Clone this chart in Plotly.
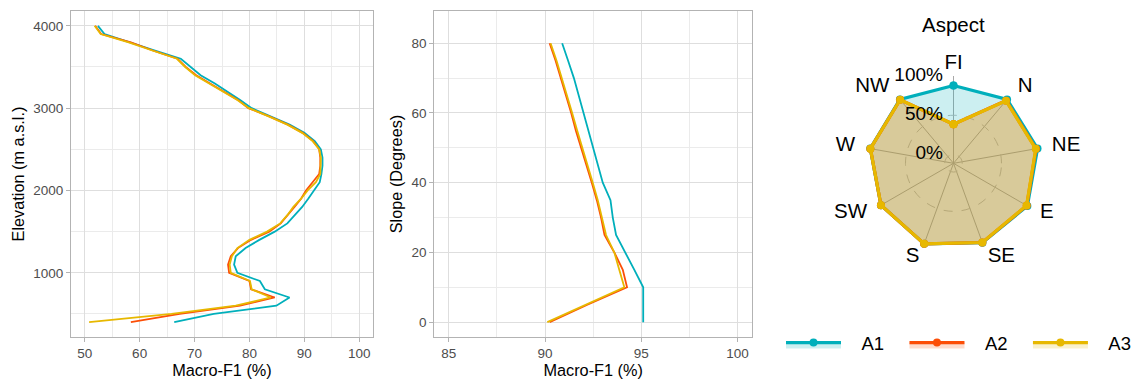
import plotly.graph_objects as go

# ---------------- data ----------------
series_names = ["A1", "A2", "A3"]
series_colors = ["#00AFBB", "#FC4E07", "#E7B800"]
series_fills = ["rgba(0,175,187,0.2)", "rgba(252,78,7,0.2)", "rgba(231,184,0,0.2)"]

elevation = [400, 500, 600, 700, 800, 900, 1000, 1100, 1200, 1300, 1400, 1500, 1600,
             1700, 1800, 1900, 2000, 2100, 2200, 2300, 2400, 2500, 2600, 2700, 2800,
             2900, 3000, 3100, 3200, 3300, 3400, 3500, 3600, 3700, 3800, 3900, 4000]
elev_A1 = [66.3, 73.5, 84.9, 87.3, 82.8, 81.9, 77.8, 77.2, 77.5, 79.3, 81.8, 84.6, 86.9,
           88.3, 89.6, 90.7, 91.8, 92.8, 93.1, 93.3, 93.3, 93.0, 91.9, 90.0, 87.3,
           83.9, 80.4, 78.3, 76.1, 73.7, 71.1, 69.2, 67.5, 62.8, 58.2, 53.6, 52.4]
elev_A2 = [58.4, 67.3, 78.3, 84.6, 80.3, 80.0, 76.3, 76.1, 76.6, 77.9, 80.3, 83.6, 85.7,
           87.0, 88.2, 89.4, 90.3, 91.5, 92.7, 92.9, 92.9, 92.7, 91.6, 89.7, 87.0,
           83.6, 79.8, 77.9, 75.4, 73.0, 70.3, 68.4, 66.9, 62.4, 58.4, 53.0, 51.9]
elev_A3 = [50.8, 65.8, 77.5, 83.9, 80.4, 80.1, 76.6, 76.4, 76.8, 77.8, 80.0, 83.2, 85.6,
           86.9, 88.0, 89.4, 90.6, 92.1, 92.9, 93.0, 93.0, 92.7, 91.5, 89.6, 86.9,
           83.5, 79.9, 77.8, 75.3, 72.8, 70.1, 68.3, 66.8, 62.3, 58.0, 52.9, 51.8]

slope = [0, 5, 10, 15, 20, 25, 30, 35, 40, 45, 50, 55, 60, 65, 70, 75, 80]
slope_A1 = [95.1, 95.1, 95.1, 94.64, 94.18, 93.69, 93.52, 93.4, 93.0, 92.75, 92.48,
            92.25, 92.0, 91.75, 91.5, 91.2, 90.89]
slope_A2 = [90.24, 92.2, 94.26, 94.04, 93.6, 93.09, 92.91, 92.69, 92.43, 92.15, 91.88,
            91.6, 91.36, 91.1, 90.84, 90.55, 90.24]
slope_A3 = [90.12, 92.1, 94.12, 93.86, 93.6, 93.17, 92.97, 92.74, 92.48, 92.2, 91.93,
            91.67, 91.41, 91.15, 90.9, 90.6, 90.29]

aspect_cats = ["FI", "N", "NE", "E", "SE", "S", "SW", "W", "NW"]
aspect_A1 = [0.88, 0.95, 0.975, 0.975, 0.965, 0.98, 0.955, 0.965, 0.95]
aspect_A2 = [0.385, 0.93, 0.955, 0.965, 0.962, 0.98, 0.955, 0.963, 0.945]
aspect_A3 = [0.385, 0.928, 0.952, 0.963, 0.962, 0.98, 0.955, 0.963, 0.945]

radial_ticks = [0, 0.5, 1.0]
radial_labels = ["0%", "50%", "100%"]

# ---------------- figure ----------------
FW, FH = 1140, 381
FONT = "Liberation Sans"


def px(x):
    return x / FW


def py(y):
    return 1 - y / FH


fig = go.Figure()

elev_series = [elev_A1, elev_A2, elev_A3]
slope_series = [slope_A1, slope_A2, slope_A3]
aspect_series = [aspect_A1, aspect_A2, aspect_A3]

for name, col, vals in zip(series_names, series_colors, elev_series):
    fig.add_trace(go.Scatter(x=vals, y=elevation, mode="lines", name=name,
                             line=dict(color=col, width=1.8), showlegend=False,
                             xaxis="x", yaxis="y"))
for name, col, vals in zip(series_names, series_colors, slope_series):
    fig.add_trace(go.Scatter(x=vals, y=slope, mode="lines", name=name,
                             line=dict(color=col, width=1.8), showlegend=False,
                             xaxis="x2", yaxis="y2"))
NB = "\u00a0"
legend_names = [NB * 3 + n + (NB * 3 if i < len(series_names) - 1 else "")
                for i, n in enumerate(series_names)]
for lname, col, fcol, vals in zip(legend_names, series_colors, series_fills, aspect_series):
    fig.add_trace(go.Scatterpolar(r=vals + [vals[0]], theta=aspect_cats + [aspect_cats[0]],
                                  mode="lines+markers", name=lname, fill="toself",
                                  fillcolor=fcol, line=dict(color=col, width=3.2),
                                  marker=dict(color=col, size=8), subplot="polar"))
# radial labels (0%, 50%, 100%) along the FI spoke
fig.add_trace(go.Scatterpolar(r=radial_ticks, theta=[aspect_cats[0]] * 3, mode="text",
                              text=[t + NB * 2 for t in radial_labels],
                              textposition="middle left",
                              textfont=dict(family=FONT, size=19, color="black"),
                              showlegend=False, subplot="polar", hoverinfo="skip"))
# category labels just outside the outer grid circle (ggradar style), drawn on an
# overlaid polar subplot with the same scale but a larger radial range
label_r = 1.16
label_pos = ["middle center", "middle right", "middle right", "middle right", "middle right",
             "middle left", "middle left", "middle left", "middle left"]
fig.add_trace(go.Scatterpolar(r=[label_r] * len(aspect_cats), theta=aspect_cats, mode="text",
                              text=aspect_cats, textposition=label_pos,
                              textfont=dict(family=FONT, size=20.5, color="black"),
                              showlegend=False, subplot="polar2", hoverinfo="skip"))

tickfont = dict(family=FONT, size=13.5, color="#4D4D4D")
titlefont = dict(family=FONT, size=16.3, color="black")
grid_major = "#DEDEDE"
grid_minor = "#EBEBEB"
border = "#B3B3B3"


def axis(domain, rng, dtick, tick0, minor_dtick, title, standoff, anchor):
    return dict(domain=domain, range=rng, dtick=dtick, tick0=tick0, anchor=anchor,
                showgrid=True, gridcolor=grid_major, gridwidth=1,
                minor=dict(showgrid=True, dtick=minor_dtick, tick0=tick0,
                           gridcolor=grid_minor, gridwidth=1),
                showline=True, mirror=True, linecolor=border, linewidth=1,
                ticks="outside", ticklen=4, tickcolor=border, tickwidth=1,
                tickfont=tickfont, zeroline=False, automargin=False,
                title=dict(text=title, font=titlefont, standoff=standoff))


xd1 = [px(71), px(373)]
xd2 = [px(434.3), px(752)]
yd = [py(337), py(11)]

R_MIN, R_MAX, R_MAX2 = -1 / 9, 1.0, 1.25
R100 = 87.3
R2 = R100 * (R_MAX2 - R_MIN) / (R_MAX - R_MIN)
CX, CY = 953.5, 163.3

hidden_angular = dict(rotation=90, direction="clockwise", categoryorder="array",
                      categoryarray=aspect_cats, showline=False, ticks="",
                      showticklabels=False, showgrid=False)

fig.update_layout(
    width=FW, height=FH, margin=dict(l=0, r=0, t=0, b=0),
    paper_bgcolor="white", plot_bgcolor="white",
    font=dict(family=FONT, color="black"),
    xaxis=axis(xd1, [47.5, 102.5], 10, 50, 5, "Macro-F1 (%)", 0, "y"),
    yaxis=axis(yd, [220, 4180], 1000, 0, 500, "Elevation (m a.s.l.)", 4, "x"),
    xaxis2=axis(xd2, [84.25, 100.75], 5, 85, 2.5, "Macro-F1 (%)", 0, "y2"),
    yaxis2=axis(yd, [-4.25, 89.25], 20, 0, 10, "Slope (Degrees)", 4, "x2"),
    polar=dict(
        domain=dict(x=[px(CX - R100), px(CX + R100)], y=[py(CY + R100), py(CY - R100)]),
        bgcolor="rgba(0,0,0,0)",
        radialaxis=dict(range=[R_MIN, R_MAX], tickvals=radial_ticks, showticklabels=False,
                        showline=False, ticks="", gridcolor="#BDBDBD", griddash="dash",
                        gridwidth=1, angle=90),
        angularaxis=dict(rotation=90, direction="clockwise", categoryorder="array",
                         categoryarray=aspect_cats, showline=False, ticks="",
                         showticklabels=False, gridcolor="#A8A8A8", gridwidth=1),
    ),
    polar2=dict(
        domain=dict(x=[px(CX - R2), px(CX + R2)], y=[py(CY + R2), py(CY - R2)]),
        bgcolor="rgba(0,0,0,0)",
        radialaxis=dict(range=[R_MIN, R_MAX2], showticklabels=False, showline=False,
                        ticks="", showgrid=False),
        angularaxis=hidden_angular,
    ),
    legend=dict(orientation="h", x=px(781), xanchor="left", y=py(343), yanchor="middle",
                font=dict(family=FONT, size=18.5, color="black"), itemwidth=55,
                bgcolor="rgba(0,0,0,0)"),
    annotations=[dict(text="Aspect", x=px(953.5), y=py(25), xref="paper", yref="paper",
                      showarrow=False, xanchor="center", yanchor="middle",
                      font=dict(family=FONT, size=20.5, color="black"))],
)

fig.write_html(
    "out.html",
    config={"displayModeBar": False},
    post_script=(
        "document.documentElement.style.overflow='hidden';"
        "document.body.style.margin='0px';"
        "document.body.style.overflow='hidden';"
        "document.querySelectorAll('svg.main-svg').forEach(function(s){"
        "s.style.overflow='hidden';});"
    ),
)
